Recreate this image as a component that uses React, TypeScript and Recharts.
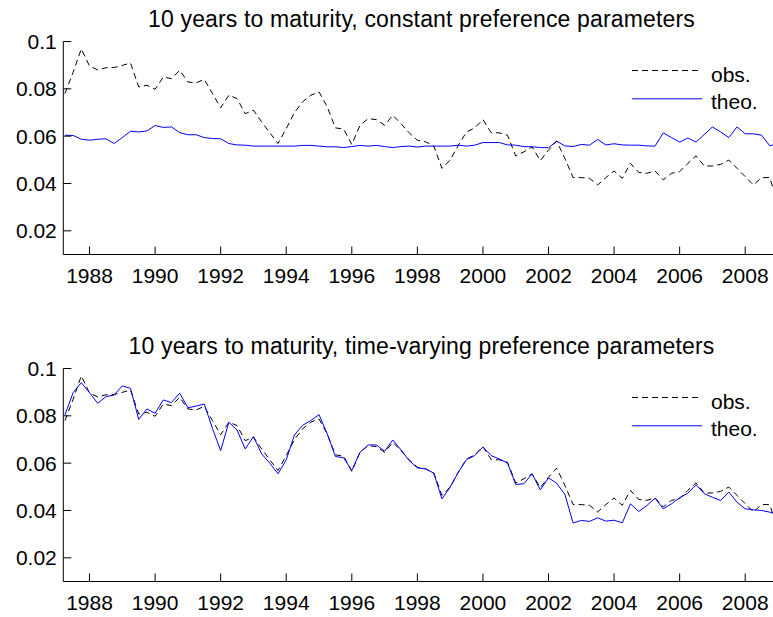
import React from 'react';
import { LineChart, Line, XAxis, YAxis } from 'recharts';

// quarterly observations, first quarter ends 1987.25
const START_YEAR = 1987;
const quarterEnds = [0.25, 0.5, 0.75, 1];
const xTicks = [1988, 1990, 1992, 1994, 1996, 1998, 2000, 2002, 2004, 2006, 2008];
const yTicks = [0.02, 0.04, 0.06, 0.08, 0.1];

const obs = [
  0.078, 0.087, 0.0969, 0.0896, 0.088, 0.0889, 0.089, 0.0899, 0.0909, 0.0808,
  0.0815, 0.0798, 0.085, 0.0843, 0.0878, 0.0829, 0.0825, 0.084, 0.078, 0.072,
  0.0773, 0.0759, 0.0695, 0.071, 0.066, 0.0614, 0.0569, 0.0632, 0.07, 0.0745,
  0.0773, 0.0787, 0.0724, 0.0635, 0.063, 0.0565, 0.0646, 0.0674, 0.067, 0.0646,
  0.0688, 0.0653, 0.0614, 0.0583, 0.0576, 0.0559, 0.0464, 0.0499, 0.0562, 0.0618,
  0.0635, 0.067, 0.0615, 0.0614, 0.0604, 0.0516, 0.0534, 0.0555, 0.0497, 0.0541,
  0.0579, 0.0506, 0.0425, 0.0425, 0.0422, 0.0394, 0.0425, 0.0453, 0.0422, 0.0485,
  0.0447, 0.0443, 0.0453, 0.0415, 0.0443, 0.045, 0.0485, 0.0517, 0.0474, 0.0474,
  0.0481, 0.0499, 0.0464, 0.0429, 0.0394, 0.0425, 0.0425, 0.031,
];

const theoConstant = [
  0.0604, 0.0603, 0.0587, 0.0583, 0.0587, 0.0589, 0.0569, 0.0594, 0.0621, 0.0618,
  0.0622, 0.0645, 0.0637, 0.0639, 0.0615, 0.0606, 0.0606, 0.0594, 0.059, 0.0589,
  0.0569, 0.0563, 0.0562, 0.0558, 0.0558, 0.0558, 0.0558, 0.0558, 0.0558, 0.0561,
  0.0561, 0.0558, 0.0555, 0.0555, 0.0552, 0.0556, 0.0561, 0.0558, 0.0561, 0.0556,
  0.0552, 0.0556, 0.0558, 0.0554, 0.0558, 0.0558, 0.0558, 0.0558, 0.0562, 0.0558,
  0.0562, 0.0573, 0.0573, 0.0573, 0.0563, 0.0562, 0.0556, 0.0555, 0.0552, 0.0551,
  0.0579, 0.0559, 0.0556, 0.0565, 0.0562, 0.0586, 0.0563, 0.0568, 0.0563, 0.0562,
  0.0562, 0.0559, 0.0558, 0.0614, 0.0594, 0.0575, 0.0592, 0.0575, 0.0607, 0.0639,
  0.0618, 0.0594, 0.0639, 0.061, 0.061, 0.0604, 0.0559, 0.0569,
];

const theoVarying = [
  0.0804, 0.0898, 0.094, 0.0898, 0.0853, 0.0881, 0.0888, 0.0927, 0.0916, 0.0785,
  0.0829, 0.0811, 0.0867, 0.0856, 0.0896, 0.0834, 0.0841, 0.085, 0.0747, 0.0653,
  0.0773, 0.074, 0.066, 0.0712, 0.0639, 0.06, 0.0555, 0.0614, 0.0719, 0.076,
  0.078, 0.0805, 0.0724, 0.0628, 0.0623, 0.0569, 0.0646, 0.0677, 0.0677, 0.0651,
  0.0698, 0.0656, 0.0611, 0.058, 0.0576, 0.0558, 0.0449, 0.0499, 0.0562, 0.0615,
  0.0632, 0.0668, 0.0632, 0.0618, 0.06, 0.051, 0.0513, 0.0555, 0.0487, 0.0538,
  0.0515, 0.0468, 0.0347, 0.0358, 0.0354, 0.0369, 0.0355, 0.0359, 0.0348, 0.0428,
  0.0396, 0.0421, 0.0452, 0.0407, 0.0428, 0.0454, 0.0473, 0.0509, 0.0471, 0.0456,
  0.0442, 0.0478, 0.0435, 0.0407, 0.0403, 0.04, 0.0393, 0.0383,
];

const dates = obs.map((_, i) => START_YEAR + Math.floor(i / 4) + quarterEnds[i % 4]);

const FONT = '"Liberation Sans", Arial, Helvetica, sans-serif';
const W = 780;
const H = 300;
const PLOT_LEFT = 63.3;

function XTick(props: any) {
  const { x, y, payload } = props;
  return (
    <g>
      <line x1={x} y1={y} x2={x} y2={y - 8} stroke="#000" />
      <text x={x} y={y + 28} textAnchor="middle" fontSize={21} fontFamily={FONT} fill="#000">
        {payload.value}
      </text>
    </g>
  );
}

function YTick(props: any) {
  const { x, y, payload } = props;
  return (
    <g>
      <line x1={x} y1={y} x2={x + 8} y2={y} stroke="#000" />
      <text x={x - 6.5} y={y + 7.5} textAnchor="end" fontSize={21} fontFamily={FONT} fill="#000">
        {String(payload.value)}
      </text>
    </g>
  );
}

function Panel({ top, title, theo }: { top: number; title: string; theo: number[] }) {
  const rows = dates.map((t, i) => ({ t, obs: obs[i], theo: theo[i] }));
  return (
    <div style={{ position: 'absolute', left: 0, top, width: W, height: H }}>
      <LineChart width={W} height={H} data={rows} margin={{ top: 41.5, right: 2, left: 0, bottom: 0 }}>
        <XAxis
          dataKey="t"
          type="number"
          domain={[1987.2, 2009]}
          allowDataOverflow
          ticks={xTicks}
          interval={0}
          height={45.5}
          tickLine={false}
          tickSize={0}
          tickMargin={0}
          axisLine={{ stroke: '#000' }}
          tick={<XTick />}
        />
        <YAxis
          type="number"
          domain={[0.01, 0.1]}
          allowDataOverflow
          ticks={yTicks}
          interval={0}
          width={PLOT_LEFT}
          tickLine={false}
          tickSize={0}
          tickMargin={0}
          axisLine={{ stroke: '#000' }}
          tick={<YTick />}
        />
        <Line
          type="linear"
          dataKey="obs"
          stroke="#000"
          strokeWidth={1}
          strokeDasharray="6 4"
          dot={false}
          isAnimationActive={false}
        />
        <Line
          type="linear"
          dataKey="theo"
          stroke="#0000ff"
          strokeWidth={1}
          dot={false}
          isAnimationActive={false}
        />
      </LineChart>
      <svg
        width={W}
        height={H}
        style={{ position: 'absolute', left: 0, top: 0, pointerEvents: 'none' }}
        fontFamily={FONT}
      >
        <text x={421.5} y={26.5} textAnchor="middle" fontSize={23} letterSpacing={0.15} fill="#000">
          {title}
        </text>
        <line x1={632} y1={70.5} x2={702} y2={70.5} stroke="#000" strokeDasharray="6 4" />
        <text x={711} y={81.5} fontSize={21} fill="#000">obs.</text>
        <line x1={632} y1={98.8} x2={702} y2={98.8} stroke="#0000ff" />
        <text x={711} y={109} fontSize={21} fill="#000">theo.</text>
      </svg>
    </div>
  );
}

export default function App() {
  return (
    <div
      style={{
        position: 'absolute',
        left: 0,
        top: 0,
        width: 773,
        height: 617,
        overflow: 'hidden',
        background: '#fff',
      }}
    >
      <Panel top={0} title="10 years to maturity, constant preference parameters" theo={theoConstant} />
      <Panel top={327} title="10 years to maturity, time-varying preference parameters" theo={theoVarying} />
    </div>
  );
}
